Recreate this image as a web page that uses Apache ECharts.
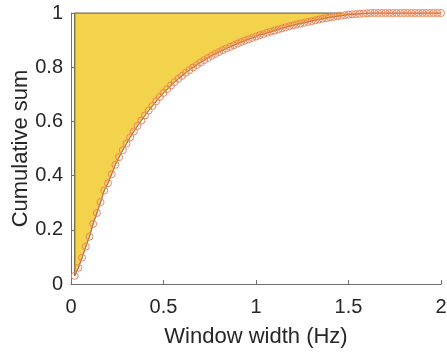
<!DOCTYPE html>
<html>
<head>
<meta charset="utf-8">
<script src="https://cdn.jsdelivr.net/npm/echarts@6/dist/echarts.min.js"></script>
<style>html,body{margin:0;padding:0;background:#fff}#c{width:447px;height:355px}</style>
</head>
<body>
<div id="c"></div>
<script>
var xValues = [0.02,0.04,0.06,0.08,0.10,0.12,0.14,0.16,0.18,0.20,
0.22,0.24,0.26,0.28,0.30,0.32,0.34,0.36,0.38,0.40,
0.42,0.44,0.46,0.48,0.50,0.52,0.54,0.56,0.58,0.60,
0.62,0.64,0.66,0.68,0.70,0.72,0.74,0.76,0.78,0.80,
0.82,0.84,0.86,0.88,0.90,0.92,0.94,0.96,0.98,1.00,
1.02,1.04,1.06,1.08,1.10,1.12,1.14,1.16,1.18,1.20,
1.22,1.24,1.26,1.28,1.30,1.32,1.34,1.36,1.38,1.40,
1.42,1.44,1.46,1.48,1.50,1.52,1.54,1.56,1.58,1.60,
1.62,1.64,1.66,1.68,1.70,1.72,1.74,1.76,1.78,1.80,
1.82,1.84,1.86,1.88,1.90,1.92,1.94,1.96,1.98,2.00];
var cumSum = [0.030,0.060,0.097,0.138,0.175,0.222,0.262,0.302,0.345,0.372,
0.405,0.440,0.468,0.494,0.518,0.541,0.563,0.583,0.603,0.622,
0.640,0.657,0.674,0.690,0.705,0.719,0.732,0.745,0.757,0.768,
0.779,0.789,0.799,0.808,0.817,0.826,0.834,0.842,0.849,0.856,
0.863,0.869,0.875,0.881,0.887,0.893,0.898,0.903,0.908,0.913,
0.918,0.922,0.927,0.931,0.935,0.939,0.943,0.947,0.951,0.954,
0.958,0.961,0.964,0.967,0.970,0.973,0.976,0.979,0.981,0.984,
0.986,0.988,0.990,0.992,0.994,0.995,0.996,0.997,0.998,0.999,
1.000,1.000,1.000,1.000,1.000,1.000,1.000,1.000,1.000,1.000,
1.000,1.000,1.000,1.000,1.000,1.000,1.000,1.000,1.000,1.000];
var xTickLabels = ['0','0.5','1','1.5','2'];
var yTickLabels = ['0','0.2','0.4','0.6','0.8','1'];

var pts = xValues.map(function(x,i){return [x,cumSum[i]];});
var endIdx = cumSum.findIndex(function(v){return v>=0.99;});
var edge = [[xValues[0],cumSum[0]],[xValues[0],1],[xValues[endIdx],1]];

var chart = echarts.init(document.getElementById('c'), null, {renderer:'canvas'});
var font = '"Liberation Sans", Arial, Helvetica, sans-serif';
chart.setOption({
  animation:false,
  grid:{left:71,right:6,top:13,bottom:71,containLabel:false,outerBoundsMode:'none'},
  xAxis:{type:'value',min:0,max:2,interval:0.5,
    name:'Window width (Hz)',nameLocation:'middle',nameGap:42,nameMoveOverlap:false,
    nameTextStyle:{fontFamily:font,fontSize:22,color:'#262626'},
    axisLine:{show:true,lineStyle:{color:'#6e6e6e',width:1}},
    axisTick:{show:true,inside:true,length:4,lineStyle:{color:'#6e6e6e'}},
    axisLabel:{fontFamily:font,fontSize:20,color:'#262626',margin:13,
      formatter:function(v){var i=Math.round(v/0.5);return xTickLabels[i]!==undefined?xTickLabels[i]:'';}},
    splitLine:{show:false}},
  yAxis:{type:'value',min:0,max:1,interval:0.2,
    name:'Cumulative sum',nameLocation:'middle',nameGap:39,nameRotate:90,nameMoveOverlap:false,
    nameTextStyle:{fontFamily:font,fontSize:22,color:'#262626'},
    axisLine:{show:true,lineStyle:{color:'#6e6e6e',width:1}},
    axisTick:{show:true,inside:true,length:4,lineStyle:{color:'#6e6e6e'}},
    axisLabel:{fontFamily:font,fontSize:20,color:'#262626',margin:8,
      formatter:function(v){var i=Math.round(v/0.2);return yTickLabels[i]!==undefined?yTickLabels[i]:'';}},
    splitLine:{show:false}},
  series:[
    {type:'line',data:pts,showSymbol:false,symbol:'none',
      lineStyle:{color:'#8a7f55',width:1},
      areaStyle:{color:'#F4D34C',opacity:1,origin:'end'},z:1},
    {type:'line',data:edge,symbol:'none',lineStyle:{color:'#7a7560',width:1.5},z:2},
    {type:'line',data:pts,symbol:'circle',symbolSize:7,showSymbol:true,clip:false,
      lineStyle:{color:'#E2602C',width:1},
      itemStyle:{color:'rgba(0,0,0,0)',borderColor:'#EC8458',borderWidth:1},z:3}
  ]
});
</script>
</body>
</html>
